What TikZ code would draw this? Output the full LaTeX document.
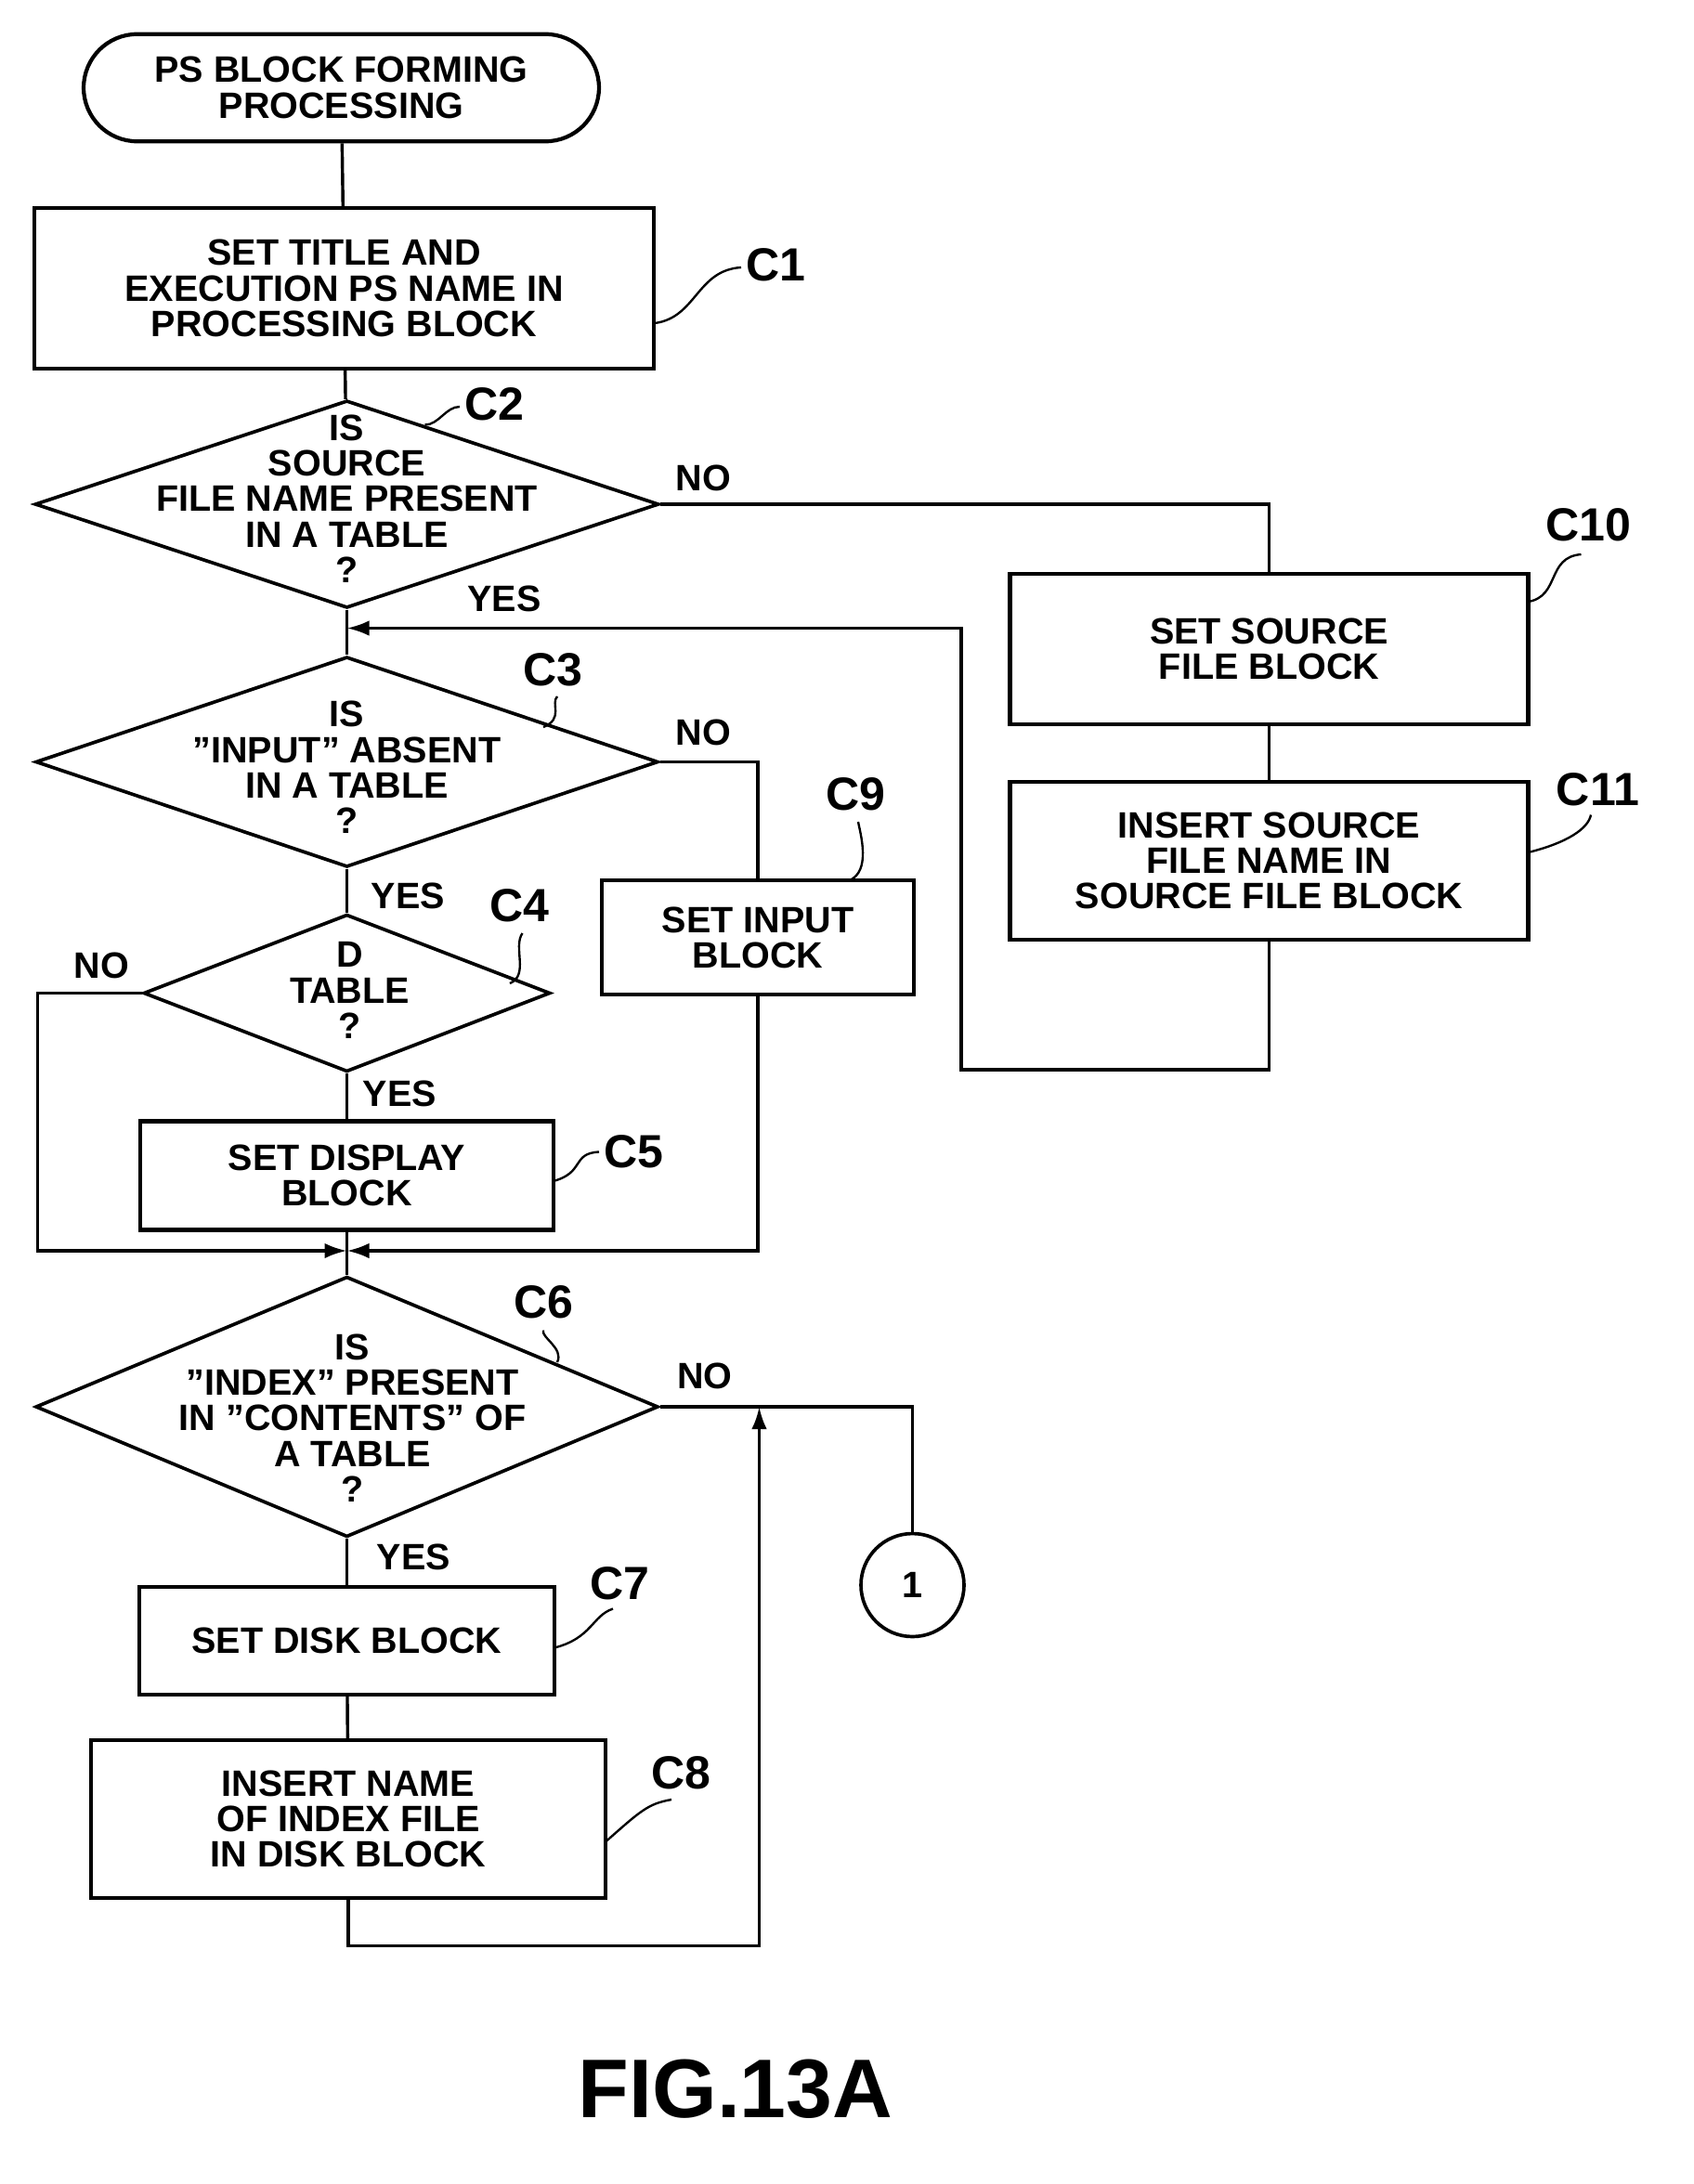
\documentclass[tikz,border=0pt]{standalone}
\usepackage{fontspec}
\setmainfont{Liberation Sans}
\usetikzlibrary{arrows.meta,shapes.geometric}
\tikzset{%
  >={Latex[width=2.2mm,length=3.2mm]},
  base/.style = {draw=black, line width=1.6pt, inner sep=0pt,
                 font=\bfseries\fontsize{15}{14.5}\selectfont, align=center},
  box/.style  = {base, rectangle},
  dia/.style  = {base, diamond, line width=1.4pt},
  txt/.style  = {font=\bfseries\fontsize{15}{14.5}\selectfont, align=center},
  tag/.style  = {font=\bfseries\fontsize{19}{20}\selectfont},
  flow/.style = {line width=1.3pt},
  lead/.style = {line width=0.9pt},
}
\begin{document}
\begin{tikzpicture}[x=0.02cm, y=-0.02cm]
  \useasboundingbox (0,0) rectangle (1216,1568);

  % main column
  \node (start) [box, rounded corners=0.77cm, minimum width=7.4cm, minimum height=1.54cm] at (245,63)
        {PS BLOCK FORMING\\PROCESSING};
  \node (c1) [box, minimum width=8.9cm, minimum height=2.3cm] at (247,207)
        {SET TITLE AND\\EXECUTION PS NAME IN\\PROCESSING BLOCK};
  \node (c2) [dia, minimum width=8.96cm, minimum height=2.98cm] at (249,362) {};
  \node [txt] at (249,358) {IS\\SOURCE\\FILE NAME PRESENT\\IN A TABLE\\?};
  \node (c3) [dia, minimum width=8.94cm, minimum height=3.02cm] at (249,547) {};
  \node [txt] at (249,551) {IS\\"INPUT" ABSENT\\IN A TABLE\\?};
  \node (c4) [dia, minimum width=5.84cm, minimum height=2.26cm] at (249,713) {};
  \node [txt] at (251,711) {D\\TABLE\\?};
  \node (c5) [box, minimum width=5.94cm, minimum height=1.56cm] at (249,844)
        {SET DISPLAY\\BLOCK};
  \node (c6) [dia, minimum width=8.94cm, minimum height=3.74cm] at (249,1010) {};
  \node [txt] at (253,1018) {IS\\"INDEX" PRESENT\\IN "CONTENTS" OF\\A TABLE\\?};
  \node (c7) [box, minimum width=5.96cm, minimum height=1.54cm] at (249,1178)
        {SET DISK BLOCK};
  \node (c8) [box, minimum width=7.38cm, minimum height=2.26cm] at (250,1306)
        {INSERT NAME\\OF INDEX FILE\\IN DISK BLOCK};

  % side blocks
  \node (c9)  [box, minimum width=4.48cm, minimum height=1.64cm] at (544,673)
        {SET INPUT\\BLOCK};
  \node (c10) [box, minimum width=7.44cm, minimum height=2.16cm] at (911,466)
        {SET SOURCE\\FILE BLOCK};
  \node (c11) [box, minimum width=7.44cm, minimum height=2.26cm] at (911,618)
        {INSERT SOURCE\\FILE NAME IN\\SOURCE FILE BLOCK};
  \node (con1) [circle, draw, line width=1.4pt, minimum size=1.48cm,
                font=\bfseries\fontsize{15}{15}\selectfont] at (655,1138) {1};

  \coordinate (j1) at (249,451);
  \coordinate (j2) at (249,898);
  \coordinate (j3) at (545,1010);

  % connectors
  \draw[flow] (start) -- (c1);
  \draw[flow] (c1) -- (c2);
  \draw[flow] (c2.east) -| (c10.north);
  \draw[flow] (c10) -- (c11);
  \draw[flow,->] (c11.south) |- (690,768) |- (j1);
  \draw[flow] (c2.south) -- (c3.north);
  \draw[flow] (c3.east) -| (c9.north);
  \draw[flow,->] (c9.south) |- (j2);
  \draw[flow] (c3.south) -- (c4.north);
  \draw[flow,->] (c4.west) -| (27,898) -- (j2);
  \draw[flow] (c4.south) -- (c5.north);
  \draw[flow] (c5.south) -- (c6.north);
  \draw[flow] (c6.east) -| (con1.north);
  \draw[flow] (c6.south) -- (c7.north);
  \draw[flow] (c7) -- (c8);
  \draw[flow,->] (c8.south) |- (545,1397) -- (j3);

  % branch labels
  \node [txt] at (505,343) {NO};
  \node [txt] at (362,430) {YES};
  \node [txt] at (505,526) {NO};
  \node [txt] at (293,643) {YES};
  \node [txt] at (73,693) {NO};
  \node [txt] at (287,785) {YES};
  \node [txt] at (506,988) {NO};
  \node [txt] at (297,1118) {YES};

  % step tags
  \node [tag] at (557,190) {C1};
  \draw[lead] (470,232) .. controls (500,228) and (500,194) .. (532,192);
  \node [tag] at (355,290) {C2};
  \draw[lead] (305,305) .. controls (315,305) and (320,292) .. (330,292);
  \node [tag] at (1140,377) {C10};
  \draw[lead] (1097,432) .. controls (1120,428) and (1110,400) .. (1135,398);
  \node [tag] at (1147,567) {C11};
  \draw[lead] (1097,612) .. controls (1125,605) and (1140,595) .. (1142,585);
  \node [tag] at (397,481) {C3};
  \draw[lead] (390,522) .. controls (405,516) and (395,505) .. (400,500);
  \node [tag] at (614,570) {C9};
  \draw[lead] (610,632) .. controls (625,625) and (618,600) .. (616,590);
  \node [tag] at (373,650) {C4};
  \draw[lead] (366,706) .. controls (380,700) and (368,680) .. (375,670);
  \node [tag] at (455,827) {C5};
  \draw[lead] (397,848) .. controls (420,842) and (410,828) .. (430,827);
  \node [tag] at (390,935) {C6};
  \draw[lead] (400,978) .. controls (405,968) and (388,960) .. (390,955);
  \node [tag] at (445,1137) {C7};
  \draw[lead] (398,1183) .. controls (425,1176) and (425,1160) .. (440,1155);
  \node [tag] at (489,1273) {C8};
  \draw[lead] (435,1322) .. controls (460,1300) and (465,1295) .. (482,1292);

  \node [font=\bfseries\fontsize{34}{36}\selectfont] at (528,1500) {FIG.13A};
\end{tikzpicture}
\end{document}
